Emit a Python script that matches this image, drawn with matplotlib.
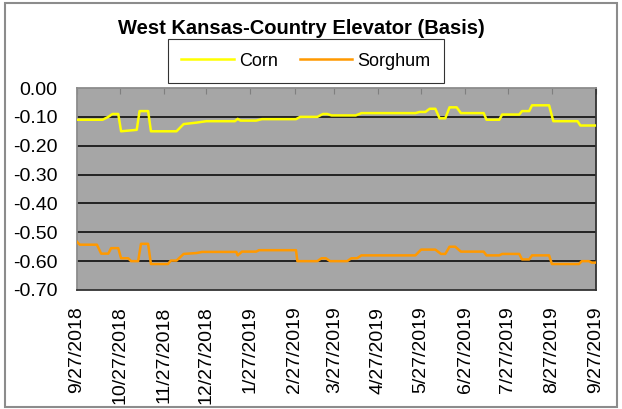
import matplotlib
matplotlib.use("Agg")
import matplotlib.pyplot as plt
from matplotlib.patches import Rectangle
import pandas as pd

plt.rcParams['font.family'] = ['Liberation Sans', 'DejaVu Sans']

start = pd.Timestamp('2018-09-27')

corn_days = [0, 18, 22, 25, 29, 31, 42, 44, 50, 52, 70, 75, 84, 91, 111, 113, 115, 126,
             130, 154, 157, 169, 173, 176, 179, 196, 200, 238, 241, 245, 248, 252, 255,
             259, 262, 267, 270, 286, 288, 297, 299, 311, 313, 318, 320, 332, 335, 352, 354, 365]
corn_vals = [-0.11, -0.11, -0.10, -0.09, -0.09, -0.15, -0.145, -0.08, -0.08, -0.15, -0.15,
             -0.125, -0.12, -0.115, -0.115, -0.107, -0.113, -0.113, -0.108, -0.108, -0.10,
             -0.10, -0.09, -0.09, -0.095, -0.095, -0.087, -0.087, -0.083, -0.083, -0.072,
             -0.072, -0.105, -0.105, -0.067, -0.067, -0.087, -0.087, -0.11, -0.11, -0.092,
             -0.092, -0.08, -0.08, -0.06, -0.06, -0.115, -0.115, -0.13, -0.13]

sorg_days = [0, 2, 14, 17, 22, 24, 29, 31, 36, 38, 43, 45, 50, 52, 64, 66, 70, 75, 84, 88,
             112, 113, 116, 126, 128, 154, 155, 169, 172, 175, 178, 190, 193, 197, 200, 238,
             242, 252, 256, 259, 262, 266, 270, 286, 288, 297, 299, 311, 313, 318, 320, 332,
             334, 353, 355, 360, 362, 365]
sorg_vals = [-0.533, -0.543, -0.543, -0.574, -0.574, -0.555, -0.555, -0.59, -0.59, -0.60,
             -0.60, -0.54, -0.54, -0.61, -0.61, -0.598, -0.598, -0.575, -0.572, -0.568,
             -0.568, -0.58, -0.567, -0.567, -0.562, -0.562, -0.60, -0.60, -0.59, -0.59,
             -0.60, -0.60, -0.59, -0.59, -0.58, -0.58, -0.56, -0.56, -0.575, -0.575, -0.55,
             -0.55, -0.567, -0.567, -0.58, -0.58, -0.575, -0.575, -0.594, -0.594, -0.58,
             -0.58, -0.61, -0.61, -0.60, -0.60, -0.605, -0.605]

tick_labels = ['9/27/2018', '10/27/2018', '11/27/2018', '12/27/2018', '1/27/2019',
               '2/27/2019', '3/27/2019', '4/27/2019', '5/27/2019', '6/27/2019',
               '7/27/2019', '8/27/2019', '9/27/2019']
y_ticks = [0.0, -0.1, -0.2, -0.3, -0.4, -0.5, -0.6, -0.7]

corn_dates = start + pd.to_timedelta(corn_days, unit='D')
sorg_dates = start + pd.to_timedelta(sorg_days, unit='D')
tick_dates = pd.to_datetime(tick_labels, format='%m/%d/%Y')

W, H = 622, 409
fig = plt.figure(figsize=(W / 100, H / 100), dpi=100)
fig.patch.set_facecolor('white')
fig.patches.append(Rectangle((5 / W, 2 / H), 612 / W, 404 / H, transform=fig.transFigure,
                             fill=False, edgecolor='#8c8c8c', linewidth=1.5))

ax = fig.add_axes([77 / W, 1 - 290 / H, (596 - 77) / W, (290 - 88) / H])
ax.set_facecolor('#a6a6a6')

for y in y_ticks[1:-1]:
    ax.axhline(y, color='black', linewidth=1.1, zorder=1)

ln1, = ax.plot(corn_dates, corn_vals, color='#ffff00', linewidth=1.8, label='Corn', zorder=3)
ln2, = ax.plot(sorg_dates, sorg_vals, color='#ff9900', linewidth=1.8, label='Sorghum', zorder=3)

ax.set_ylim(-0.7, 0.0)
ax.set_xlim(tick_dates[0], tick_dates[-1])
ax.set_yticks(y_ticks)
ax.set_yticklabels([f'{v:.2f}' for v in y_ticks], fontsize=14)
ax.tick_params(axis='y', length=0, pad=14)

ax.set_xticks(tick_dates)
ax.set_xticklabels(tick_labels, rotation=90, fontsize=14)
ax.tick_params(axis='x', top=True, bottom=False, labelbottom=True, labeltop=False,
               direction='in', length=4, color='#7f7f7f', pad=12)

ax.spines['left'].set_color('#8c8c8c')
ax.spines['top'].set_color('#8c8c8c')
ax.spines['right'].set_color('#333333')
ax.spines['bottom'].set_color('#333333')
for s in ax.spines.values():
    s.set_linewidth(1.3)

fig.text(301.5 / W, 1 - 28 / H, 'West Kansas-Country Elevator (Basis)', ha='center', va='center',
         fontsize=14.5, fontweight='bold')

leg = fig.legend(handles=[ln1, ln2], loc='center', bbox_to_anchor=(306 / W, 1 - 61 / H),
                 ncol=2, fontsize=13, frameon=True, fancybox=False, handlelength=2.9,
                 columnspacing=1.2, borderpad=0.75, handletextpad=0.3)
leg.get_frame().set_edgecolor('black')
leg.get_frame().set_linewidth(0.8)

fig.savefig('out.png', dpi=100)
